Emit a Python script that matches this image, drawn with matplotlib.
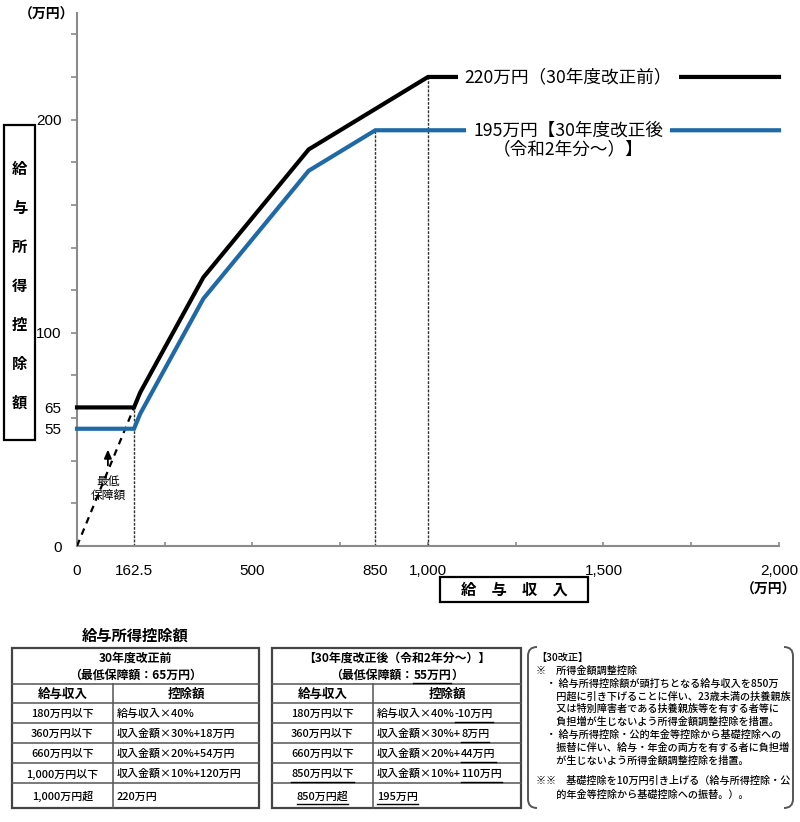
import matplotlib
matplotlib.use("Agg")
import matplotlib.pyplot as plt
from matplotlib.patches import Rectangle
from matplotlib.path import Path
from matplotlib.patches import PathPatch

plt.rcParams['font.family'] = ['Noto Sans CJK JP', 'DejaVu Sans']

# ---------------- data ----------------
income_old = [0, 162.5, 180, 360, 660, 1000, 2000]
deduct_old = [65, 65, 72, 126, 186, 220, 220]
income_new = [0, 162.5, 180, 360, 660, 850, 2000]
deduct_new = [55, 55, 62, 116, 176, 195, 195]

min_guar_x = [0, 162.5]
min_guar_y = [0, 65]

guide_x = [162.5, 850, 1000]
guide_top = [65, 195, 220]

y_tick_vals = [0, 55, 65, 100, 200]
y_tick_labels = ['0', '55', '65', '100', '200']
x_tick_vals = [0, 162.5, 500, 850, 1000, 1500, 2000]
x_tick_labels = ['0', '162.5', '500', '850', '1,000', '1,500', '2,000']

label_old = '220万円（30年度改正前）'
label_new1 = '195万円【30年度改正後'
label_new2 = '（令和2年分～）】'

table_title = '給与所得控除額'
old_head = ['30年度改正前', '（最低保障額：65万円）']
old_income_rows = ['180万円以下', '360万円以下', '660万円以下', '1,000万円以下', '1,000万円超']
old_deduct_rows = ['給与収入×40%', '収入金額×30%+18万円', '収入金額×20%+54万円',
                   '収入金額×10%+120万円', '220万円']

new_head1 = [('【30年度改正後（令和2年分～）】', False)]
new_head2 = [('（最低保障額：', False), ('55万円', True), ('）', False)]
new_income_rows = [[('180万円以下', False)], [('360万円以下', False)], [('660万円以下', False)],
                   [('850万円以下', True)], [('850万円超', True)]]
new_deduct_rows = [[('給与収入×40%', False), ('-10万円', True)],
                   [('収入金額×30%+', False), ('8万円', True)],
                   [('収入金額×20%+', False), ('44万円', True)],
                   [('収入金額×10%+', False), ('110万円', True)],
                   [('195万円', True)]]
col_heads = ['給与収入', '控除額']

note_lines = [
    '【30改正】',
    '※　所得金額調整控除',
    '　・ 給与所得控除額が頭打ちとなる給与収入を850万',
    '　　円超に引き下げることに伴い、23歳未満の扶養親族',
    '　　又は特別障害者である扶養親族等を有する者等に',
    '　　負担増が生じないよう所得金額調整控除を措置。',
    '　・ 給与所得控除・公的年金等控除から基礎控除への',
    '　　振替に伴い、給与・年金の両方を有する者に負担増',
    '　　が生じないよう所得金額調整控除を措置。',
    '※※　基礎控除を10万円引き上げる（給与所得控除・公',
    '　　的年金等控除から基礎控除への振替。）。',
]

# ---------------- figure ----------------
W, H = 800, 822
fig = plt.figure(figsize=(W / 100, H / 100), dpi=100)
fig.patch.set_facecolor('white')


def rect(l, t, r, b):
    return [l / W, 1 - b / H, (r - l) / W, (b - t) / H]


BLUE = '#1f6aa6'
AXC = '#8a8a8a'

ax = fig.add_axes(rect(77, 13, 779, 546))
ax.set_xlim(0, 2000)
ax.set_ylim(0, 250)
for s in ['top', 'right']:
    ax.spines[s].set_visible(False)
for s in ['left', 'bottom']:
    ax.spines[s].set_color(AXC)
    ax.spines[s].set_linewidth(1.5)

ax.plot(income_old, deduct_old, color='black', lw=3, clip_on=False, zorder=4,
        solid_joinstyle='miter')
ax.plot(income_new, deduct_new, color=BLUE, lw=3, clip_on=False, zorder=4,
        solid_joinstyle='miter')
ax.plot(min_guar_x, min_guar_y, color='black', lw=1.6, ls=(0, (3, 2.5)), zorder=3)
for gx, gt in zip(guide_x, guide_top):
    ax.plot([gx, gx], [0, gt], color='#333333', lw=1, ls=(0, (2, 1)), zorder=2)

# ticks
ax.yaxis.remove_overlapping_locs = False
ax.xaxis.remove_overlapping_locs = False
ax.set_yticks(y_tick_vals)
ax.set_yticklabels(y_tick_labels, family=['Liberation Sans', 'Noto Sans CJK JP'])
ax.set_yticks(list(range(20, 250, 20)), minor=True)
ax.tick_params(axis='y', which='major', length=0, pad=11, labelsize=11)
ax.tick_params(axis='y', which='minor', length=4, width=1.2, color=AXC, direction='out')
ax.set_xticks(x_tick_vals)
ax.set_xticklabels(x_tick_labels, family=['Liberation Sans', 'Noto Sans CJK JP'])
ax.set_xticks(list(range(250, 2001, 250)), minor=True)
ax.tick_params(axis='x', which='major', length=0, pad=13, labelsize=11)
ax.tick_params(axis='x', which='minor', length=3, width=1.2, color=AXC, direction='in')

# line labels
bb = dict(boxstyle='square,pad=0.4', facecolor='white', edgecolor='none')
ax.text(1400, 220, label_old, ha='center', va='center', fontsize=12.7, bbox=bb, zorder=6)
ax.text(1400, 195, label_new1, ha='center', va='center', fontsize=12.7, bbox=bb, zorder=6)
ax.text(1400, 186, label_new2, ha='center', va='center', fontsize=12.7, zorder=6)

# minimum guarantee arrow
ax.annotate('', xy=(88, 46.5), xytext=(88, 36.5),
            arrowprops=dict(arrowstyle='-|>,head_width=0.22,head_length=0.5', color='black', lw=1.3))
ax.text(88, 27, '最低\n保障額', ha='center', va='center', fontsize=8.5, linespacing=1.05)

# ---------------- overlay (pixel coords) ----------------
ov = fig.add_axes([0, 0, 1, 1])
ov.set_xlim(0, W)
ov.set_ylim(H, 0)
ov.axis('off')

ov.text(19, 15, '（万円）', ha='left', va='center', fontsize=10, fontweight='bold')
ov.text(796, 590, '（万円）', ha='right', va='center', fontsize=10, fontweight='bold')

# y label box
ov.add_patch(Rectangle((4, 125), 31, 315, fill=False, edgecolor='black', lw=1.6))
for i, ch in enumerate('給与所得控除額'):
    ov.text(19.5, 169 + i * 39, ch, ha='center', va='center', fontsize=11, fontweight='bold')

# x label box
ov.add_patch(Rectangle((440, 577), 148, 25, fill=False, edgecolor='black', lw=1.6))
ov.text(514, 589.5, '給　与　収　入', ha='center', va='center', fontsize=11, fontweight='bold')

fig.canvas.draw()
renderer = fig.canvas.get_renderer()


def seg_text(x, y, segs, ha='left', fs=7.5, fw='normal'):
    widths = []
    for t, _ in segs:
        tt = ov.text(0, 0, t, fontsize=fs, fontweight=fw)
        bbx = tt.get_window_extent(renderer)
        widths.append(bbx.width)
        tt.remove()
    total = sum(widths)
    cx = x - total / 2 if ha == 'center' else x
    for (t, ul), w in zip(segs, widths):
        ov.text(cx, y, t, ha='left', va='center', fontsize=fs, fontweight=fw)
        if ul:
            ov.plot([cx, cx + w], [y + 7.5, y + 7.5], color='black', lw=1.0)
        cx += w


row_lines = [648, 684, 703, 723, 743, 763, 783, 808]
TC = '#555555'


def draw_table(x0, x1, xd, head1, head2, inc_rows, ded_rows):
    ov.add_patch(Rectangle((x0, row_lines[0]), x1 - x0, row_lines[-1] - row_lines[0],
                           fill=False, edgecolor='#444444', lw=1.6))
    for yl in row_lines[1:-1]:
        ov.plot([x0, x1], [yl, yl], color=TC, lw=1.1)
    ov.plot([xd, xd], [row_lines[1], row_lines[-1]], color=TC, lw=1.1)
    cx = (x0 + x1) / 2
    seg_text(cx, 658, head1, ha='center', fs=8.6, fw='bold')
    seg_text(cx, 675, head2, ha='center', fs=8.6, fw='bold')
    seg_text((x0 + xd) / 2, 694, [(col_heads[0], False)], ha='center', fs=9, fw='bold')
    seg_text((xd + x1) / 2, 694, [(col_heads[1], False)], ha='center', fs=9, fw='bold')
    for i, (a, b) in enumerate(zip(inc_rows, ded_rows)):
        yc = (row_lines[i + 2] + row_lines[i + 3]) / 2 + 1
        seg_text((x0 + xd) / 2, yc, a, ha='center', fs=7.9, fw='medium')
        seg_text(xd + 4, yc, b, ha='left', fs=7.9, fw='medium')


ov.text(135, 636, table_title, ha='center', va='center', fontsize=11, fontweight='bold')
draw_table(12, 259, 113,
           [(old_head[0], False)], [(old_head[1], False)],
           [[(r, False)] for r in old_income_rows],
           [[(r, False)] for r in old_deduct_rows])
draw_table(272, 521, 373, new_head1, new_head2, new_income_rows, new_deduct_rows)

# note box with bracket sides
r = 9
lx, rx, ty, by = 528, 793, 647, 808
left = Path([(lx + r, ty), (lx, ty), (lx, ty + r), (lx, by - r), (lx, by), (lx + r, by)],
            [Path.MOVETO, Path.CURVE3, Path.CURVE3, Path.LINETO, Path.CURVE3, Path.CURVE3])
right = Path([(rx - r, ty), (rx, ty), (rx, ty + r), (rx, by - r), (rx, by), (rx - r, by)],
             [Path.MOVETO, Path.CURVE3, Path.CURVE3, Path.LINETO, Path.CURVE3, Path.CURVE3])
for p in (left, right):
    ov.add_patch(PathPatch(p, fill=False, edgecolor='#555555', lw=1.4))

note_y = [658, 671, 684, 697, 709, 722, 735, 748, 761, 781, 795]
for t, yy in zip(note_lines, note_y):
    ov.text(536, yy, t, ha='left', va='center', fontsize=7.3, fontweight='medium')

fig.savefig('out.png', dpi=100)
